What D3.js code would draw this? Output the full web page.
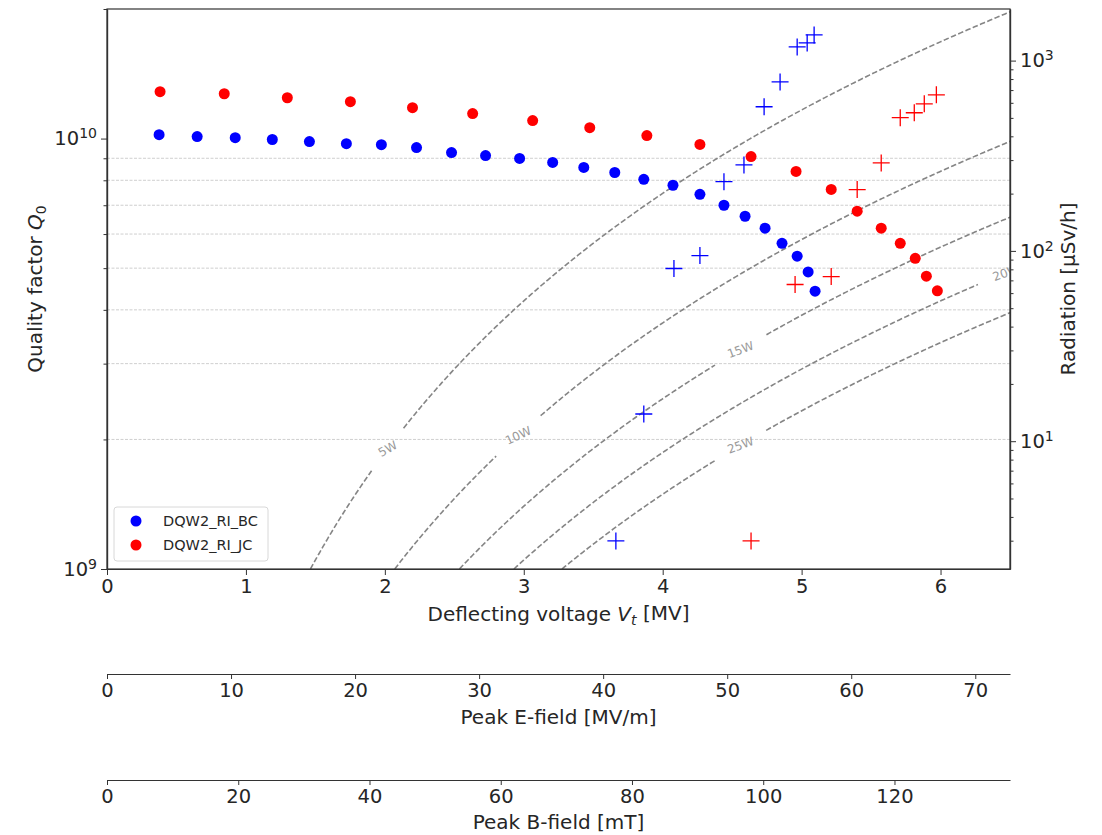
<!DOCTYPE html>
<html>
<head>
<meta charset="utf-8">
<script src="https://cdn.jsdelivr.net/npm/d3@7"></script>
<style>
  body { margin: 0; background: #fff; }
  text { font-family: "DejaVu Sans", sans-serif; fill: #262626; }
</style>
</head>
<body>
<div id="chart"></div>
<script>
// ----------------------------------------------- //
// Data
// Q0 vs deflecting voltage
var bcVoltage = [0.375, 0.649, 0.923, 1.190, 1.457, 1.723, 1.975, 2.228, 2.480, 2.725, 2.970, 3.208,
    3.432, 3.655, 3.864, 4.074, 4.268, 4.441, 4.593, 4.737, 4.859, 4.968, 5.047, 5.097];
var bcQ0 = [1.021e10, 1.011e10, 1.005e10, 0.995e10, 0.984e10, 0.973e10, 0.968e10, 0.953e10, 0.928e10,
    0.913e10, 0.899e10, 0.880e10, 0.857e10, 0.834e10, 0.804e10, 0.779e10, 0.742e10, 0.700e10,
    0.660e10, 0.619e10, 0.571e10, 0.533e10, 0.490e10, 0.442e10];

var jcVoltage = [0.382, 0.844, 1.298, 1.752, 2.199, 2.632, 3.064, 3.475, 3.886, 4.268, 4.636, 4.960,
    5.213, 5.400, 5.573, 5.710, 5.818, 5.898, 5.977];
var jcQ0 = [1.285e10, 1.271e10, 1.244e10, 1.218e10, 1.180e10, 1.143e10, 1.101e10, 1.060e10, 1.016e10,
    0.969e10, 0.908e10, 0.839e10, 0.762e10, 0.678e10, 0.619e10, 0.571e10, 0.527e10, 0.479e10, 0.443e10];

// radiation vs deflecting voltage
var bcRadVoltage = [3.663, 3.864, 4.081, 4.268, 4.441, 4.585, 4.730, 4.845, 4.968, 5.040, 5.090];
var bcRadiation = [2.99, 13.9, 80.8, 94.5, 231, 283, 572, 773, 1180, 1238, 1364];

var jcRadVoltage = [4.636, 4.953, 5.213, 5.400, 5.573, 5.710, 5.811, 5.883, 5.970];
var jcRadiation = [2.99, 66.6, 73.3, 210, 290, 501, 532, 593, 661];

// constant dissipated power lines
var powerLevels = [5, 10, 15, 20, 25];
var powerLabelVoltage = [2.02, 2.96, 4.56, 6.47, 4.56];
var powerLabelAngle = [-30, -25, -20, -20, -20];
var rOverQ = 429; // ohm

var seriesNames = ["DQW2_RI_BC", "DQW2_RI_JC"];
var seriesColors = ["#0000ff", "#ff0000"];

// conversions for the extra x axes
var eFieldPerMV = 11.2;   // MV/m per MV
var bFieldPerMV = 21.17;  // mT per MV
var eTicks = [0, 10, 20, 30, 40, 50, 60, 70];
var bTicks = [0, 20, 40, 60, 80, 100, 120];

// ----------------------------------------------- //
// Sizes
var svgWidth = 1102;
var svgHeight = 835;
var plot = { left: 107, right: 1010, top: 9, bottom: 569 };
var eAxisY = 674;
var bAxisY = 780;
var vMax = 6.5;
var tickFont = "19.5px";
var labelFont = "20px";

var svg = d3.select("#chart").append("svg")
    .attr("width", svgWidth)
    .attr("height", svgHeight);

var x = d3.scaleLinear().domain([0, vMax]).range([plot.left, plot.right]);
var yQ = d3.scaleLog().domain([1e9, 2e10]).range([plot.bottom, plot.top]);
var yR = d3.scaleLog().domain([2.13, 1867]).range([plot.bottom, plot.top]);

svg.append("clipPath").attr("id", "plotClip")
  .append("rect")
    .attr("x", plot.left).attr("y", plot.top)
    .attr("width", plot.right - plot.left)
    .attr("height", plot.bottom - plot.top);

// ----------------------------------------------- //
// Grid lines at minor Q0 ticks
var qMinor = [2e9, 3e9, 4e9, 5e9, 6e9, 7e9, 8e9, 9e9];
svg.append("g").selectAll("line")
    .data(qMinor)
    .enter()
    .append("line")
    .attr("x1", plot.left).attr("x2", plot.right)
    .attr("y1", d => yQ(d)).attr("y2", d => yQ(d))
    .attr("stroke", "#cfcfcf")
    .attr("stroke-width", 1)
    .attr("stroke-dasharray", "3,1.5");

// ----------------------------------------------- //
// Constant power curves, Q0 = V^2 / (R/Q * P)
var curveGroup = svg.append("g").attr("clip-path", "url(#plotClip)");
var line = d3.line().x(d => d[0]).y(d => d[1]);

powerLevels.forEach(function(p, i) {
    var vStart = Math.sqrt(rOverQ * 1e9 * p) / 1e6;
    var lv = powerLabelVoltage[i];
    var lx = x(lv), ly = yQ(Math.pow(lv * 1e6, 2) / (rOverQ * p));
    var gap = p === 5 ? 25 : 29;
    var before = [], after = [];
    for (var v = vStart; v <= vMax + 0.02; v += 0.01) {
        var px = x(v), py = yQ(Math.pow(v * 1e6, 2) / (rOverQ * p));
        var dist = Math.hypot(px - lx, py - ly);
        if (dist < gap) continue;
        if (v < lv) before.push([px, py]); else after.push([px, py]);
    }
    [before, after].forEach(function(seg) {
        if (seg.length < 2) return;
        curveGroup.append("path")
            .attr("d", line(seg))
            .attr("fill", "none")
            .attr("stroke", "#858585")
            .attr("stroke-width", 1.6)
            .attr("stroke-dasharray", "5.5,2.4");
    });
    curveGroup.append("text")
        .attr("transform", `translate(${lx},${ly}) rotate(${powerLabelAngle[i]})`)
        .attr("text-anchor", "middle")
        .attr("dy", "0.35em")
        .style("font-size", "12px")
        .style("fill", "#9a9a9a")
        .text(p + "W");
});

// ----------------------------------------------- //
// Markers
var dotGroup = svg.append("g");
[[bcVoltage, bcQ0], [jcVoltage, jcQ0]].forEach(function(s, k) {
    dotGroup.selectAll(null)
        .data(d3.zip(s[0], s[1]))
        .enter()
        .append("circle")
        .attr("cx", d => x(d[0]))
        .attr("cy", d => yQ(d[1]))
        .attr("r", 5.5)
        .attr("fill", seriesColors[k]);
});

var crossGroup = svg.append("g");
[[bcRadVoltage, bcRadiation], [jcRadVoltage, jcRadiation]].forEach(function(s, k) {
    crossGroup.selectAll(null)
        .data(d3.zip(s[0], s[1]))
        .enter()
        .append("path")
        .attr("transform", d => `translate(${x(d[0])},${yR(d[1])})`)
        .attr("d", "M-8.5,0H8.5M0,-8.5V8.5")
        .attr("stroke", seriesColors[k])
        .attr("stroke-width", 1.3)
        .attr("fill", "none");
});

// ----------------------------------------------- //
// Axes
function styleAxis(g) {
    g.selectAll("path.domain").attr("stroke", "#333").attr("stroke-width", 1.2);
    g.selectAll(".tick line").attr("stroke", "#333").attr("stroke-width", 1);
    g.selectAll(".tick text").style("font-size", tickFont).attr("fill", "#262626");
}

function powerTen(g) {
    g.selectAll(".tick text").each(function(d) {
        var t = d3.select(this);
        t.append("tspan").text("10");
        t.append("tspan")
            .attr("dy", "-0.5em")
            .style("font-size", "0.72em")
            .text(Math.round(Math.log10(d)));
    });
}

// bottom voltage axis
var xAxis = svg.append("g")
    .attr("transform", `translate(0,${plot.bottom})`)
    .call(d3.axisBottom(x).tickValues(d3.range(0, 7)).tickFormat(d3.format("d"))
        .tickSize(6).tickPadding(4).tickSizeOuter(0));
styleAxis(xAxis);

// left Q0 axis
var yMinorAll = qMinor.concat([2e10]);
var yAxisMinor = svg.append("g")
    .attr("transform", `translate(${plot.left},0)`)
    .call(d3.axisLeft(yQ).tickValues(yMinorAll).tickSize(3.5).tickFormat("").tickSizeOuter(0));
styleAxis(yAxisMinor);
var yAxis = svg.append("g")
    .attr("transform", `translate(${plot.left},0)`)
    .call(d3.axisLeft(yQ).tickValues([1e9, 1e10]).tickSize(6).tickPadding(4).tickFormat(() => "").tickSizeOuter(0));
styleAxis(yAxis);
powerTen(yAxis);

// right radiation axis
var rMinor = [];
[1, 10, 100, 1000].forEach(function(dec) {
    for (var m = 2; m <= 9; m++) {
        var v = m * dec;
        if (v >= 2.13 && v <= 1867) rMinor.push(v);
    }
});
var rAxisMinor = svg.append("g")
    .attr("transform", `translate(${plot.right},0)`)
    .call(d3.axisRight(yR).tickValues(rMinor).tickSize(3.5).tickFormat("").tickSizeOuter(0));
styleAxis(rAxisMinor);
var rAxis = svg.append("g")
    .attr("transform", `translate(${plot.right},0)`)
    .call(d3.axisRight(yR).tickValues([10, 100, 1000]).tickSize(6).tickPadding(4).tickFormat(() => "").tickSizeOuter(0));
styleAxis(rAxis);
powerTen(rAxis);

// frame
svg.append("rect")
    .attr("x", plot.left).attr("y", plot.top)
    .attr("width", plot.right - plot.left)
    .attr("height", plot.bottom - plot.top)
    .attr("fill", "none")
    .attr("stroke", "#333")
    .attr("stroke-width", 1.2);

// peak E-field axis
var xE = d3.scaleLinear().domain([0, vMax * eFieldPerMV]).range([plot.left, plot.right]);
var eAxis = svg.append("g")
    .attr("transform", `translate(0,${eAxisY})`)
    .call(d3.axisBottom(xE).tickValues(eTicks).tickSize(5).tickPadding(4).tickSizeOuter(0));
styleAxis(eAxis);

// peak B-field axis
var xB = d3.scaleLinear().domain([0, vMax * bFieldPerMV]).range([plot.left, plot.right]);
var bAxis = svg.append("g")
    .attr("transform", `translate(0,${bAxisY})`)
    .call(d3.axisBottom(xB).tickValues(bTicks).tickSize(5).tickPadding(4).tickSizeOuter(0));
styleAxis(bAxis);

// ----------------------------------------------- //
// Axis labels
var midX = (plot.left + plot.right) / 2;
var midY = (plot.top + plot.bottom) / 2;

var xLabel = svg.append("text")
    .attr("x", midX).attr("y", 621)
    .attr("text-anchor", "middle")
    .style("font-size", labelFont);
xLabel.append("tspan").text("Deflecting voltage ");
xLabel.append("tspan").style("font-style", "italic").text("V");
xLabel.append("tspan").style("font-style", "italic").style("font-size", "0.7em").attr("dy", "0.25em").text("t");
xLabel.append("tspan").attr("dy", "-0.25em").text(" [MV]");

svg.append("text")
    .attr("x", midX).attr("y", 724)
    .attr("text-anchor", "middle")
    .style("font-size", labelFont)
    .text("Peak E-field [MV/m]");

svg.append("text")
    .attr("x", midX).attr("y", 829)
    .attr("text-anchor", "middle")
    .style("font-size", labelFont)
    .text("Peak B-field [mT]");

var yLabel = svg.append("text")
    .attr("transform", `translate(42,${midY}) rotate(-90)`)
    .attr("text-anchor", "middle")
    .style("font-size", labelFont);
yLabel.append("tspan").text("Quality factor ");
yLabel.append("tspan").style("font-style", "italic").text("Q");
yLabel.append("tspan").style("font-size", "0.7em").attr("dy", "0.25em").text("0");

svg.append("text")
    .attr("transform", `translate(1075,${midY}) rotate(-90)`)
    .attr("text-anchor", "middle")
    .style("font-size", labelFont)
    .text("Radiation [\u03bcSv/h]");

// ----------------------------------------------- //
// Legend
var legend = svg.append("g").attr("transform", "translate(114,507)");
legend.append("rect")
    .attr("width", 154).attr("height", 54)
    .attr("rx", 3)
    .attr("fill", "#fff")
    .attr("fill-opacity", 0.8)
    .attr("stroke", "#d8d8d8");
seriesNames.forEach(function(name, i) {
    legend.append("circle")
        .attr("cx", 22).attr("cy", 14 + i * 24)
        .attr("r", 5.5)
        .attr("fill", seriesColors[i]);
    legend.append("text")
        .attr("x", 49).attr("y", 14 + i * 24)
        .attr("dy", "0.35em")
        .style("font-size", "14.5px")
        .text(name);
});
</script>
</body>
</html>
